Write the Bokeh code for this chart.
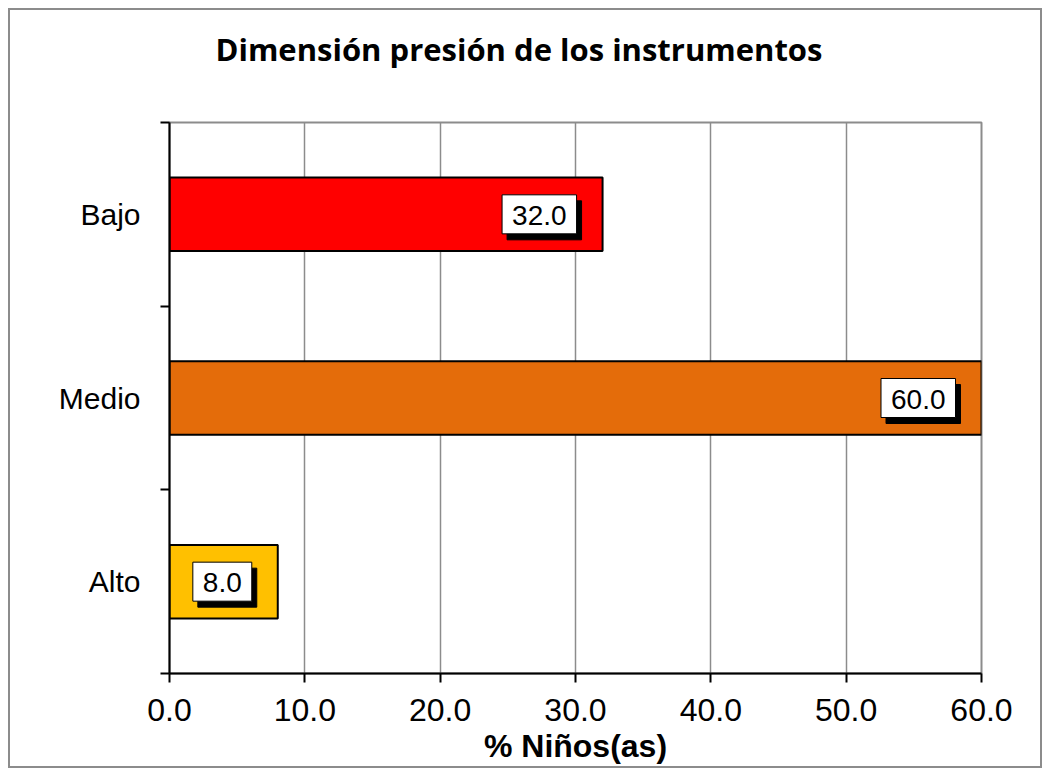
from bokeh.plotting import figure
from bokeh.models import (ColumnDataSource, FixedTicker, Range1d,
                          NumeralTickFormatter, Title)
from bokeh.core.properties import value
from bokeh.embed import file_html
from bokeh.resources import INLINE

title_text = "Dimensión presión de los instrumentos"
x_label = "% Niños(as)"
categories = ["Alto", "Medio", "Bajo"]
values = [8.0, 60.0, 32.0]
colors = ["#FFC000", "#E46C0A", "#FF0000"]
x_ticks = [0, 10, 20, 30, 40, 50, 60]

ypos = [i + 0.5 for i in range(len(categories))]
labels = ["%.1f" % v for v in values]
src = ColumnDataSource(dict(y=ypos, v=values, c=colors, lab=labels))

p = figure(width=1030, height=756, output_backend="svg", toolbar_location=None,
           title_location=None,
           x_range=Range1d(0, 60), y_range=Range1d(0, 3),
           min_border_left=159, min_border_right=63, min_border_top=112,
           min_border_bottom=97)
p.styles = {"border": "2px solid #8c8c8c", "box-sizing": "content-box",
            "margin": "8px"}

p.hbar(y="y", right="v", left=0, height=0.4, fill_color="c",
       line_color="black", line_width=2, source=src)

pad = dict(left=10, right=10, top=11, bottom=9)
p.text(x="v", y="y", text="lab", source=src, text_align="right",
       text_baseline="middle", x_offset=-21, y_offset=6,
       text_font=value("Liberation Sans"), text_font_size=value("28px"),
       text_color="black", background_fill_color="black",
       border_line_color="black", padding=pad)
p.text(x="v", y="y", text="lab", source=src, text_align="right",
       text_baseline="middle", x_offset=-26, y_offset=0,
       text_font=value("Liberation Sans"), text_font_size=value("28px"),
       text_color="black", background_fill_color="white",
       border_line_color="black", border_line_width=1, padding=pad)

# spacer between frame and title, then the title itself
p.add_layout(Title(text=" ", text_font_size="1px", standoff=50), "above")
p.add_layout(Title(text=title_text, text_font="Open Sans",
                   text_font_style="bold", text_font_size="31px",
                   text_color="black", align="left", offset=46,
                   standoff=0), "above")

p.outline_line_color = "#8c8c8c"
p.outline_line_width = 2

p.xgrid.ticker = FixedTicker(ticks=x_ticks)
p.xgrid.grid_line_color = "#8c8c8c"
p.xgrid.grid_line_width = 1.5
p.ygrid.grid_line_color = None

xa = p.xaxis[0]
xa.ticker = FixedTicker(ticks=x_ticks)
xa.formatter = NumeralTickFormatter(format="0.0")
xa.axis_line_color = "black"
xa.axis_line_width = 2
xa.major_tick_line_width = 2
xa.major_tick_in = 0
xa.major_tick_out = 9
xa.minor_tick_line_color = None
xa.major_label_text_font = "Liberation Sans"
xa.major_label_text_font_size = "32px"
xa.major_label_text_color = "black"
xa.major_label_standoff = 16
xa.axis_label = x_label
xa.axis_label_text_font = "Liberation Sans"
xa.axis_label_text_font_style = "bold"
xa.axis_label_text_font_size = "32px"
xa.axis_label_text_color = "black"
xa.axis_label_standoff = 4

ya = p.yaxis[0]
ya.ticker = FixedTicker(ticks=ypos, minor_ticks=[0, 1, 2, 3])
ya.major_label_overrides = {y: c for y, c in zip(ypos, categories)}
ya.axis_line_color = "black"
ya.axis_line_width = 2
ya.major_tick_line_color = None
ya.major_tick_in = 0
ya.major_tick_out = 9
ya.minor_tick_line_color = "black"
ya.minor_tick_line_width = 2
ya.minor_tick_in = 0
ya.minor_tick_out = 9
ya.major_label_text_font = "Liberation Sans"
ya.major_label_text_font_size = "30px"
ya.major_label_text_color = "black"
ya.major_label_standoff = 20

open("out.html", "w").write(file_html(p, INLINE))
